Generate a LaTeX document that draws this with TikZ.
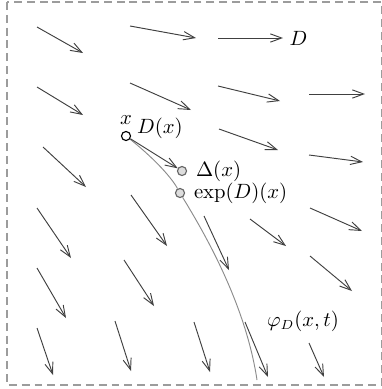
\documentclass[tikz,border=0pt]{standalone}
\usepackage{amsmath, amssymb}
\usepackage{xcolor}
\usepackage{tikz}
\usetikzlibrary{arrows.meta, positioning}
\definecolor{vecgray}{HTML}{404040}
\definecolor{flowgray}{HTML}{8C8C8C}
\definecolor{framegray}{HTML}{9C9C9C}
\definecolor{ptfill}{HTML}{DDDDDD}

\begin{document}
\begin{tikzpicture}[x=0.53pt,y=-0.53pt,
  every node/.style={font=\fontsize{10.7pt}{13pt}\selectfont},
  vec/.style={draw=vecgray,line width=0.5pt,-{Straight Barb[length=6pt,width=4.4pt]}},
  flow/.style={draw=flowgray,line width=0.5pt},
  pt/.style={circle,draw=black,fill=white,line width=0.6pt,inner sep=0pt,minimum size=4.8pt},
  gpt/.style={pt,draw=black!60,fill=ptfill}]
\useasboundingbox (0,0) rectangle (382,389);
%边框
\draw[framegray,line width=0.7pt,dash pattern=on 4.2pt off 2.6pt] (7,2) rectangle (382,385);

%三个点
\node[pt] (x) at (126,136) {};
\node[gpt] (delta) at (182,171) {};
\node[gpt] (expx) at (180,193) {};
\coordinate (flowend) at (257,380);

%标签
\node (xlab) at (126,120) {$x$};
\node (Dxlab) at (160,128) {$D(x)$};
\node (deltalab) [right=1.2pt of delta] {$\Delta(x)$};
\node (explab) [right=1.2pt of expx] {$\exp(D)(x)$};
\node (philab) at (303,321) {$\varphi_D(x,t)$};
\node (D) [anchor=west] at (283,38) {$D$};

%积分曲线
\draw[flow] (x) .. controls (150,155) and (170,175) .. (expx);
\draw[flow] (expx) .. controls (200,226) and (245,300) .. (flowend);

%切向量
\draw[vec] (x)--(delta);

%向量场 第一行
\draw[vec] (37,27)--(83,53);
\draw[vec] (130,26)--(196,38);
\draw[vec] (218,38)--(D);
%第二行
\draw[vec] (37,87)--(83,115);
\draw[vec] (130,83)--(191,110);
\draw[vec] (218,86)--(280,101);
\draw[vec] (309,94)--(365,94);
%第三行
\draw[vec] (43,147)--(86,187);
\draw[vec] (219,129)--(278,150);
\draw[vec] (309,155)--(363,162);
%第四行
\draw[vec] (37,208)--(71,258);
\draw[vec] (131,195)--(167,246);
\draw[vec] (204,216)--(229,270);
\draw[vec] (250,219)--(286,246);
\draw[vec] (310,208)--(362,231);
%第五行
\draw[vec] (37,268)--(66,318);
\draw[vec] (124,260)--(154,306);
\draw[vec] (310,256)--(352,291);
%第六行
\draw[vec] (37,328)--(53,375);
\draw[vec] (115,321)--(131,371);
\draw[vec] (194,322)--(210,372);
\draw[vec] (245,322)--(268,377);
\draw[vec] (309,343)--(324,377);
\end{tikzpicture}
\end{document}
